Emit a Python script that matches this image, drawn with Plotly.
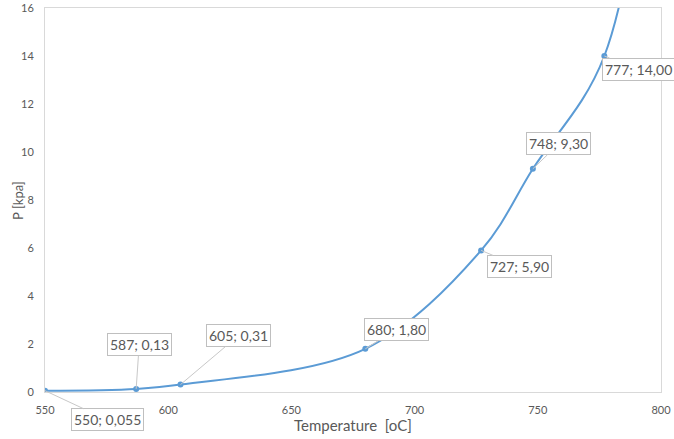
import plotly.graph_objects as go

temperature = [550, 587, 605, 680, 727, 748, 777, 800]
pressure = [0.055, 0.13, 0.31, 1.80, 5.90, 9.30, 14.00, 28.0]
labels = ["550; 0,055", "587; 0,13", "605; 0,31", "680; 1,80", "727; 5,90", "748; 9,30", "777; 14,00"]
label_offsets = [(62, 29), (3, -44), (58, -49), (31, -19), (38, 16), (26, -25), (34, 13)]

x_ticks = [550, 600, 650, 700, 750, 800]
y_ticks = [0, 2, 4, 6, 8, 10, 12, 14, 16]

FONT = "Lato, Liberation Sans, sans-serif"
GRAY = "#595959"

fig = go.Figure()
fig.add_trace(go.Scatter(
    x=temperature, y=pressure, mode="lines+markers",
    line=dict(color="#5b9bd5", width=2, shape="spline", smoothing=1.0),
    marker=dict(color="#5b9bd5", size=6),
    showlegend=False, hoverinfo="skip",
))

for xv, yv, txt, (ax, ay) in zip(temperature, pressure, labels, label_offsets):
    fig.add_annotation(
        x=xv, y=yv, text=txt, showarrow=True, arrowhead=0, arrowwidth=1,
        arrowcolor="#c8c8c8", ax=ax, ay=ay, standoff=0,
        font=dict(family=FONT, size=14, color=GRAY),
        bgcolor="white", bordercolor="#bfbfbf", borderwidth=1, borderpad=2,
    )

fig.add_annotation(
    text="Temperature  [oC]", xref="paper", yref="paper", x=0.5, y=-0.086,
    showarrow=False, font=dict(family=FONT, size=15, color=GRAY),
    xanchor="center", yanchor="middle",
)
fig.add_annotation(
    text="P [kpa]", xref="paper", yref="paper", x=-0.044, y=0.5,
    showarrow=False, textangle=-90, font=dict(family=FONT, size=13, color=GRAY),
    xanchor="center", yanchor="middle",
)

fig.update_layout(
    width=674, height=439,
    margin=dict(l=45, r=13, t=8, b=47),
    paper_bgcolor="white", plot_bgcolor="white",
    font=dict(family=FONT, color=GRAY),
    xaxis=dict(
        range=[550, 800], tickvals=x_ticks, showgrid=False, zeroline=False,
        showline=True, mirror=True, linecolor="#d9d9d9", linewidth=1,
        tickfont=dict(size=11, color=GRAY), ticks="", ticklabelstandoff=8,
        automargin=False,
    ),
    yaxis=dict(
        range=[0, 16], tickvals=y_ticks, showgrid=False, zeroline=False,
        showline=True, mirror=True, linecolor="#d9d9d9", linewidth=1,
        tickfont=dict(size=11, color=GRAY), ticks="", ticklabelstandoff=8,
        automargin=False,
    ),
)

fig.write_html("out.html", config={"displayModeBar": False},
               post_script="document.body.style.margin='0';")
